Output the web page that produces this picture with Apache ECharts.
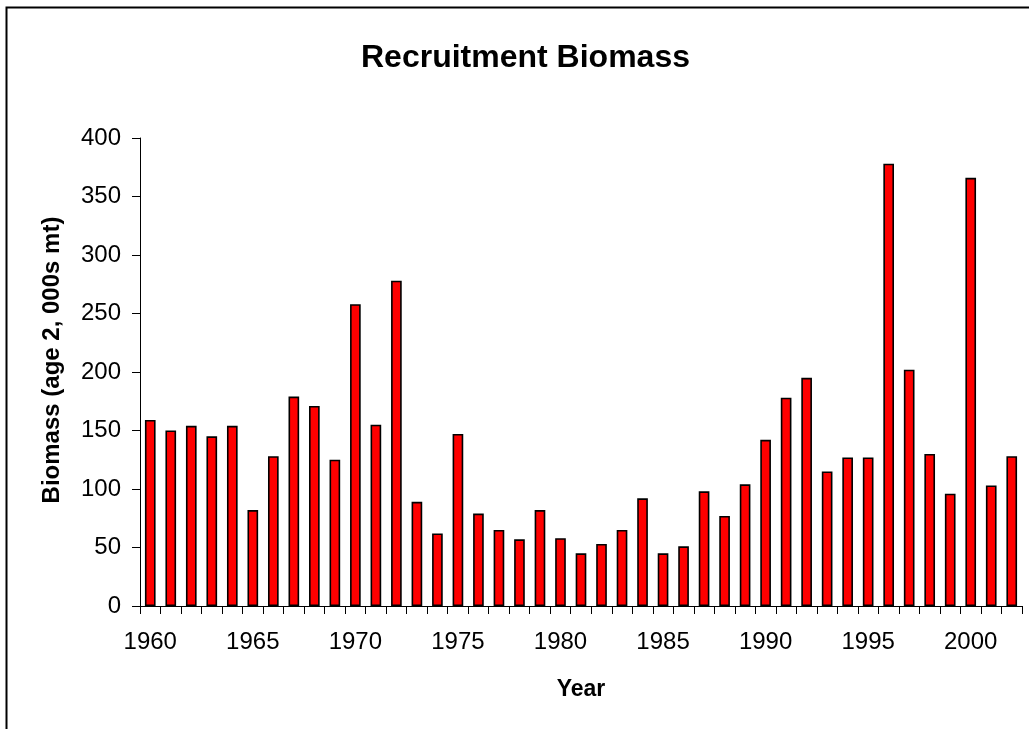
<!DOCTYPE html>
<html>
<head>
<meta charset="utf-8">
<title>Recruitment Biomass</title>
<script src="https://cdn.jsdelivr.net/npm/echarts@6/dist/echarts.min.js"></script>
<style>
  html, body { margin: 0; padding: 0; background: #ffffff; }
  #chart { width: 1029px; height: 729px; }
</style>
</head>
<body>
<div id="chart"></div>
<script>
// Recruitment biomass by year (age 2, thousands of metric tons)
const years = [
  '1960','1961','1962','1963','1964','1965','1966','1967','1968','1969',
  '1970','1971','1972','1973','1974','1975','1976','1977','1978','1979',
  '1980','1981','1982','1983','1984','1985','1986','1987','1988','1989',
  '1990','1991','1992','1993','1994','1995','1996','1997','1998','1999',
  '2000','2001','2002'
];
const biomass = [
  159, 150, 154, 145, 154, 82, 128, 179, 171, 125,
  258, 155, 278, 89, 62, 147, 79, 65, 57, 82,
  58, 45, 53, 65, 92, 45, 51, 98, 77, 104,
  142, 178, 195, 115, 127, 127, 378, 202, 130, 96,
  366, 103, 128
];
const yTicks = { min: 0, max: 400, interval: 50 };

const FONT = '"Liberation Sans", Arial, sans-serif';

const chart = echarts.init(document.getElementById('chart'), null, { renderer: 'canvas' });

chart.setOption({
  backgroundColor: '#ffffff',
  animation: false,
  title: {
    text: 'Recruitment Biomass',
    left: 356,
    top: 37,
    textStyle: { fontFamily: FONT, fontWeight: 'bold', fontSize: 32, color: '#000000' }
  },
  grid: { left: 140, right: 7, top: 138, bottom: 123, containLabel: false },
  xAxis: {
    type: 'category',
    data: years,
    boundaryGap: true,
    name: 'Year',
    nameLocation: 'middle',
    nameGap: 72,
    nameTextStyle: { fontFamily: FONT, fontWeight: 'bold', fontSize: 23, color: '#000000' },
    axisLine: { show: true, lineStyle: { color: '#000000', width: 1 } },
    axisTick: { show: true, interval: 0, length: 8, lineStyle: { color: '#000000', width: 1 } },
    axisLabel: {
      interval: 4,
      margin: 24,
      fontFamily: FONT,
      fontSize: 24,
      color: '#000000'
    },
    splitLine: { show: false }
  },
  yAxis: {
    type: 'value',
    min: yTicks.min,
    max: yTicks.max,
    interval: yTicks.interval,
    name: 'Biomass (age 2, 000s mt)',
    nameLocation: 'middle',
    nameGap: 76,
    nameRotate: 90,
    nameTextStyle: {
      fontFamily: FONT, fontWeight: 'bold', fontSize: 24, color: '#000000',
      padding: [0, 0, 0, 24]
    },
    axisLine: { show: true, lineStyle: { color: '#000000', width: 1 } },
    axisTick: { show: true, length: 8, lineStyle: { color: '#000000', width: 1 } },
    axisLabel: {
      margin: 19,
      fontFamily: FONT,
      fontSize: 24,
      color: '#000000'
    },
    splitLine: { show: false }
  },
  series: [{
    type: 'bar',
    data: biomass,
    barWidth: '52%',
    itemStyle: { color: '#ff0000', borderColor: '#000000', borderWidth: 1.6 }
  }],
  graphic: [{
    // outer frame of the chart area (right and bottom edges fall outside the view)
    type: 'rect',
    silent: true,
    shape: { x: 6.5, y: 7.5, width: 1200, height: 1200 },
    style: { fill: 'none', stroke: '#000000', lineWidth: 2 }
  }]
});
</script>
</body>
</html>
